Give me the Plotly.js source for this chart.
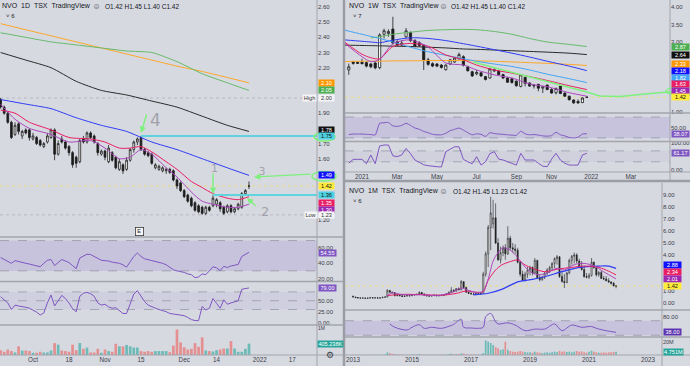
<!DOCTYPE html>
<html><head><meta charset="utf-8">
<script src="https://cdn.plot.ly/plotly-3.0.1.min.js"></script>
<style>html,body{margin:0;padding:0;background:#d7d9e1;overflow:hidden}#c{width:690px;height:366px}</style>
</head><body><div id="c"></div>
<script>
// ================= DAILY (1D) =================
const dDates = ['2021-09-20','2021-09-21','2021-09-22','2021-09-23','2021-09-24','2021-09-27','2021-09-28','2021-09-29','2021-09-30',
'2021-10-01','2021-10-04','2021-10-05','2021-10-06','2021-10-07','2021-10-08','2021-10-12','2021-10-13','2021-10-14','2021-10-15',
'2021-10-18','2021-10-19','2021-10-20','2021-10-21','2021-10-22','2021-10-25','2021-10-26','2021-10-27','2021-10-28','2021-10-29',
'2021-11-01','2021-11-02','2021-11-03','2021-11-04','2021-11-05','2021-11-08','2021-11-09','2021-11-10','2021-11-11','2021-11-12',
'2021-11-15','2021-11-16','2021-11-17','2021-11-18','2021-11-19','2021-11-22','2021-11-23','2021-11-24','2021-11-25','2021-11-26',
'2021-11-29','2021-11-30','2021-12-01','2021-12-02','2021-12-03','2021-12-06','2021-12-07','2021-12-08','2021-12-09','2021-12-10',
'2021-12-13','2021-12-14','2021-12-15','2021-12-16','2021-12-17','2021-12-20','2021-12-21','2021-12-22','2021-12-23','2021-12-24','2021-12-29'];
const dOpen  = [1.99,1.94,1.90,1.84,1.76,1.83,1.75,1.79,1.79,1.73,1.74,1.72,1.68,1.71,1.74,1.79,1.63,1.73,1.71,1.68,1.64,1.61,1.58,1.73,1.71,1.77,1.75,1.70,1.63,1.65,1.58,1.64,1.61,1.53,1.56,1.53,1.59,1.66,1.71,1.74,1.66,1.64,1.63,1.54,1.53,1.52,1.52,1.53,1.52,1.46,1.44,1.39,1.36,1.34,1.31,1.29,1.28,1.24,1.28,1.29,1.30,1.31,1.28,1.25,1.29,1.25,1.27,1.28,1.37,1.42];
const dHigh  = [2.00,1.95,1.91,1.85,1.84,1.84,1.79,1.80,1.80,1.77,1.75,1.73,1.71,1.77,1.80,1.80,1.72,1.75,1.72,1.69,1.65,1.62,1.73,1.75,1.78,1.78,1.76,1.71,1.66,1.66,1.69,1.65,1.62,1.60,1.57,1.61,1.67,1.72,1.74,1.75,1.67,1.65,1.64,1.57,1.56,1.55,1.54,1.54,1.53,1.47,1.45,1.40,1.37,1.35,1.32,1.30,1.29,1.29,1.29,1.36,1.34,1.32,1.29,1.30,1.30,1.28,1.31,1.38,1.40,1.45];
const dLow   = [1.93,1.89,1.83,1.73,1.75,1.76,1.73,1.76,1.72,1.72,1.69,1.68,1.67,1.70,1.73,1.59,1.62,1.70,1.66,1.62,1.54,1.54,1.57,1.70,1.70,1.73,1.70,1.62,1.62,1.59,1.57,1.58,1.53,1.52,1.50,1.52,1.58,1.64,1.69,1.65,1.62,1.61,1.56,1.53,1.52,1.51,1.50,1.50,1.45,1.40,1.38,1.34,1.31,1.28,1.25,1.24,1.23,1.23,1.25,1.28,1.28,1.25,1.23,1.24,1.24,1.24,1.26,1.27,1.36,1.40];
const dClose = [1.94,1.90,1.84,1.74,1.82,1.78,1.78,1.77,1.74,1.75,1.70,1.69,1.70,1.75,1.79,1.63,1.70,1.71,1.67,1.64,1.56,1.57,1.72,1.71,1.77,1.74,1.71,1.64,1.65,1.61,1.67,1.59,1.54,1.58,1.52,1.59,1.66,1.71,1.73,1.66,1.63,1.62,1.57,1.56,1.55,1.54,1.53,1.51,1.46,1.42,1.39,1.35,1.32,1.29,1.26,1.25,1.24,1.28,1.26,1.34,1.33,1.27,1.24,1.29,1.25,1.27,1.30,1.37,1.39,1.42];
const dVolK  = [172,115,195,140,90,310,160,160,140,80,80,115,90,90,160,425,370,160,140,115,370,172,425,220,265,90,90,220,80,195,140,115,400,310,310,360,310,265,265,140,115,140,115,140,140,140,140,100,335,910,450,275,195,220,425,290,630,160,140,125,172,195,230,230,495,230,115,115,220,405.238];
const dRsi   = [47.6,45,42,40,43.5,42,41,40,39,37.5,36,35.5,40,44,45,37,41,45,43,41,37,33,47,50,52,51.5,49,46,44,43.5,43,41.5,41,40,38,35,42,49,53.7,49,46,45,44,42,41.5,40,38,34.5,31.5,30,29,28,26,25,21,22,26,25,30,35.5,34,30.5,36,34.5,36.5,37.5,38.5,49,51.5,54.55];
const dStoch = [59,52,45,30,40,38,37,35,33,29,24,17.5,22,45,63,38,50,62,55,45,32,25,60,67,69,66,60,45,40,42,36,33,34,27,21,21,45,65,72.7,60,48,40,36,33,30,28,25,21,20,19,18,16,12,7,5,4.5,37,29,33,55,44,33,52,42,45,48,50,76,78,79];
// moving averages read at sample dates
const dSlowDates = ['2021-09-20','2021-09-29','2021-10-08','2021-10-20','2021-10-29','2021-11-09','2021-11-18','2021-11-29','2021-12-08','2021-12-17','2021-12-29'];
const dMaOrange = [2.49,2.45,2.41,2.37,2.33,2.29,2.25,2.21,2.175,2.135,2.10];
const dMaGreen  = [2.43,2.40,2.37,2.35,2.33,2.31,2.30,2.24,2.16,2.10,2.05];
const dMaBlack  = [2.30,2.25,2.20,2.11,2.05,2.02,1.98,1.94,1.88,1.82,1.78];
const dMaBlue   = [1.99,1.96,1.93,1.87,1.82,1.78,1.71,1.66,1.60,1.54,1.49];
const dFastDates = ['2021-09-20','2021-09-24','2021-09-30','2021-10-08','2021-10-18','2021-10-26','2021-11-01','2021-11-05','2021-11-10','2021-11-15','2021-11-18','2021-11-24','2021-11-29','2021-12-03','2021-12-08','2021-12-13','2021-12-17','2021-12-22','2021-12-29'];
const dMaPink   = [1.92,1.90,1.84,1.79,1.74,1.73,1.71,1.67,1.67,1.68,1.645,1.58,1.53,1.45,1.41,1.37,1.34,1.33,1.35];
const dMaPurple = [1.96,1.86,1.80,1.76,1.71,1.72,1.67,1.60,1.61,1.66,1.63,1.54,1.48,1.38,1.32,1.30,1.28,1.28,1.30];
const dRay4 = {date:'2021-11-15', level:1.75};
const dRay1 = {date:'2021-12-13', level:1.36};
const dHighLow = {high:2.00, low:1.23};
const dLast = 1.42;
const dPriceTicks = [1.2,1.6,1.7,1.9,2.2,2.3,2.4,2.5,2.6];
const dTickVals = ['2021-09-20','2021-10-01','2021-10-18','2021-11-01','2021-11-15','2021-12-01','2021-12-14','2022-01-04','2022-01-17'];
const dTickText = ['20','Oct','18','Nov','15','Dec','14','2022','17'];
const dHolidays = ['2021-10-11','2021-12-27','2021-12-28','2022-01-03'];

// ================= WEEKLY (1W) =================
const wStart = '2020-12-14';
const wOpen  = [2.20,2.43,2.42,2.42,2.41,2.37,2.40,2.27,3.22,3.24,3.37,3.01,2.91,3.15,3.27,3.04,2.98,2.91,2.49,2.38,2.37,2.34,2.21,2.37,2.43,2.52,2.58,2.29,2.15,2.09,2.12,2.01,1.97,2.17,2.17,2.07,1.97,1.95,1.88,1.73,1.99,1.83,1.76,1.79,1.68,1.77,1.64,1.55,1.74,1.54,1.45,1.34,1.30,1.27,1.42];
const wHigh  = [2.38,2.46,2.45,2.52,2.45,2.40,2.44,3.25,3.38,3.36,3.72,3.05,3.05,3.40,3.30,3.08,3.02,2.93,2.55,2.42,2.40,2.37,2.36,2.52,2.57,2.70,2.62,2.32,2.18,2.20,2.14,2.03,2.26,2.24,2.20,2.09,2.00,1.98,1.90,2.08,2.00,1.84,1.80,1.80,1.74,1.78,1.68,1.70,1.75,1.56,1.47,1.36,1.36,1.42,1.45];
const wLow   = [2.06,2.35,2.37,2.36,2.27,2.25,2.22,2.22,3.10,3.15,2.92,2.88,2.88,3.10,3.00,2.85,2.86,2.20,2.32,2.28,2.28,2.24,2.18,2.34,2.40,2.50,2.30,2.15,2.00,2.05,2.00,1.90,1.95,2.14,2.04,1.94,1.83,1.81,1.72,1.70,1.73,1.72,1.67,1.59,1.54,1.62,1.52,1.50,1.51,1.43,1.33,1.23,1.23,1.25,1.40];
const wClose = [2.29,2.39,2.39,2.38,2.31,2.29,2.26,3.20,3.32,3.30,2.97,2.91,2.97,3.32,3.04,2.88,2.90,2.49,2.36,2.31,2.31,2.27,2.34,2.49,2.54,2.64,2.34,2.18,2.03,2.13,2.03,1.93,2.23,2.21,2.07,1.97,1.85,1.84,1.75,2.06,1.82,1.74,1.75,1.68,1.72,1.64,1.54,1.67,1.53,1.45,1.35,1.26,1.26,1.40,1.42];
const wRsi   = [36.5,37.5,37.5,37.5,37,36.5,35.7,58,59,59.5,53,52,54,58,54,49,46.5,42.5,40,37,36,36,39,44,46.5,49,45,40,36,38,37,33,40,38.5,37.5,37,36,35.5,35,43,38,36,36.5,35.5,34,33.5,34.5,41,36,34,31,30,31.5,37.5,38.07];
const wStoch = [25,39,39,39,23,55,23,88,91.6,91.6,52,49,55,79,60,36.6,28,19,16,13,12,11,67,76,85,85,39,30,23,49,18,30,60,67,40,36.6,30,23,18,61,36.6,36.6,36.6,25,14,12,40,61,36.6,25,18,18,18,55,61.17];
const wMaDates = ['2020-12-07','2021-01-04','2021-01-18','2021-02-01','2021-02-22','2021-03-22','2021-04-19','2021-05-17','2021-06-14','2021-07-05','2021-08-02','2021-08-30','2021-09-27','2021-10-25','2021-11-29','2021-12-27'];
const wMaBlue   = [3.06,3.02,3.00,2.98,3.05,3.12,3.10,3.04,2.95,2.88,2.78,2.68,2.57,2.45,2.31,2.18];
const wMaLBlue  = [3.34,3.22,3.16,3.10,3.00,2.85,2.72,2.62,2.52,2.45,2.37,2.30,2.20,2.08,1.95,1.84];
const wMaPink   = [3.00,2.65,2.55,2.52,2.87,2.96,2.88,2.63,2.49,2.34,2.20,2.11,2.01,1.90,1.75,1.64];
const wMaPurple = [2.97,2.58,2.44,2.50,2.95,3.06,2.85,2.40,2.34,2.20,2.06,1.97,1.80,1.72,1.55,1.45];
const wMaBlack  = [2.91,2.90,2.895,2.89,2.88,2.87,2.85,2.83,2.80,2.79,2.77,2.75,2.73,2.71,2.68,2.64];
const wMaOrange = [2.44,2.45,2.45,2.45,2.46,2.46,2.47,2.47,2.47,2.46,2.45,2.43,2.41,2.39,2.36,2.33];
const wMaGreen  = [null,null,3.12,3.15,3.22,3.28,3.33,3.35,3.36,3.35,3.30,3.22,3.10,3.00,2.93,2.87];
const wPriceTicks = [1,3,3.5,4];
const wTickVals = ['2021-01-04','2021-03-01','2021-05-03','2021-07-05','2021-09-06','2021-11-01','2022-01-03','2022-03-07'];
const wTickText = ['2021','Mar','May','Jul','Sep','Nov','2022','Mar'];

// ================= MONTHLY (1M) =================
const mStartYear = 2013;
const mOpen = [0.55,0.50,0.45,0.42,0.41,0.42,0.39,0.41,0.44,0.42,0.43,0.41,
 0.43,0.48,0.50,1.05,0.90,0.86,0.62,0.65,0.60,0.55,0.58,0.62,
 0.60,0.68,0.70,0.72,0.88,0.75,0.65,0.60,0.58,0.62,0.66,0.60,
 0.63,0.62,0.70,0.76,0.90,1.05,0.98,1.20,1.10,1.78,1.30,0.90,
 0.80,0.75,0.72,0.78,0.74,0.80,2.40,4.10,6.30,6.60,7.10,5.00,
 3.60,4.20,4.60,4.10,5.40,4.60,4.50,4.40,3.40,2.40,1.90,2.40,
 2.75,2.95,2.50,3.55,2.10,1.95,2.15,2.50,2.75,2.95,3.30,3.70,
 3.85,2.20,1.80,1.70,2.50,3.55,3.90,4.00,3.50,3.00,2.80,2.20,
 2.15,2.30,3.40,2.95,2.35,2.55,2.05,2.00,1.85,1.75,1.64,1.42];
const mHigh = [0.62,0.52,0.47,0.45,0.44,0.43,0.43,0.46,0.47,0.45,0.46,0.44,
 0.50,0.55,1.15,1.08,0.95,0.88,0.70,0.72,0.66,0.62,0.66,0.70,
 0.72,0.75,0.78,0.98,0.92,0.80,0.70,0.66,0.64,0.70,0.70,0.66,
 0.70,0.74,0.80,0.95,1.32,1.15,1.25,1.30,1.92,1.80,1.35,0.95,
 0.90,0.85,0.82,0.86,0.82,2.60,4.30,6.50,8.85,8.60,8.30,5.40,
 4.70,4.80,4.90,6.40,5.60,5.00,4.90,4.60,3.50,2.70,2.60,3.00,
 3.10,3.05,3.75,3.60,2.40,2.25,2.60,2.90,3.10,3.40,3.80,4.00,
 3.90,2.70,2.40,2.60,3.70,4.00,4.20,4.15,3.70,3.50,3.10,2.50,
 2.50,3.75,3.45,3.05,2.65,2.70,2.25,2.25,2.08,1.80,1.75,1.45];
const mLow = [0.48,0.42,0.40,0.38,0.38,0.37,0.37,0.40,0.40,0.39,0.40,0.38,
 0.42,0.46,0.48,0.85,0.80,0.55,0.55,0.58,0.52,0.50,0.55,0.55,
 0.58,0.62,0.65,0.70,0.72,0.62,0.55,0.52,0.54,0.58,0.58,0.55,
 0.58,0.60,0.66,0.72,0.85,0.90,0.95,1.05,1.05,1.20,0.85,0.75,
 0.72,0.68,0.66,0.70,0.68,0.78,2.20,3.00,4.40,6.20,4.90,3.50,
 3.30,3.90,3.60,4.00,4.40,4.20,4.10,3.30,2.20,1.80,1.80,2.10,
 2.30,2.30,2.40,2.00,1.80,1.85,2.00,2.30,2.50,2.70,2.90,3.20,
 2.10,1.70,1.25,1.65,2.40,3.20,3.30,3.30,2.90,2.70,2.10,2.05,
 2.00,2.20,2.85,2.20,2.20,2.00,1.90,1.82,1.70,1.54,1.40,1.23];
const mClose = [0.50,0.45,0.42,0.41,0.42,0.39,0.41,0.44,0.42,0.43,0.41,0.43,
 0.48,0.50,1.05,0.90,0.86,0.62,0.65,0.60,0.55,0.58,0.62,0.60,
 0.68,0.70,0.72,0.88,0.75,0.65,0.60,0.58,0.62,0.66,0.60,0.63,
 0.62,0.70,0.76,0.90,1.05,0.98,1.20,1.10,1.78,1.30,0.90,0.80,
 0.75,0.72,0.78,0.74,0.80,2.40,4.10,6.30,7.50,7.10,5.00,3.60,
 4.20,4.60,4.10,5.40,4.60,4.50,4.40,3.40,2.40,1.90,2.40,2.75,
 2.95,2.50,3.55,2.10,1.95,2.15,2.50,2.75,2.95,3.30,3.70,3.85,
 2.20,1.80,1.70,2.50,3.55,3.90,4.00,3.50,3.00,2.80,2.20,2.15,
 2.30,3.40,2.95,2.35,2.55,2.05,2.00,1.85,1.75,1.64,1.42,1.42];
const mVolM = [0.3,0.2,0.2,0.3,0.2,0.2,0.3,0.4,0.3,0.2,0.2,0.3,
 0.5,0.6,4.0,3.0,2.0,1.5,0.8,0.6,0.5,0.4,0.5,0.5,
 0.6,0.5,0.6,1.5,0.8,0.6,0.4,0.5,0.4,0.5,0.4,0.5,
 0.5,0.8,1.0,1.5,2.0,1.2,1.5,1.5,2.5,2.2,1.0,0.8,
 0.8,0.7,0.7,0.6,0.9,3.0,22,20,18,15,12,10,
 7.5,8.5,20,8,6,5,4.5,5,6,5,4,4,
 4,3.5,5,4,3.5,3,3.5,4,3.5,4,5,4.5,
 6,5,5.5,4.5,5,4,5,6,5,5.5,4,3.5,
 5,6.5,5,4,3.5,3.5,4,3.5,4,4,4.5,4.751];
const mRsiDates = ['2014-04-01','2014-06-01','2014-11-01','2015-01-01','2015-04-01','2015-06-01','2015-09-01','2016-01-01','2016-05-01','2016-06-01','2016-09-01','2016-10-01','2017-01-01','2017-04-01','2017-06-01','2017-07-01','2017-09-01','2017-11-01','2017-12-01','2018-04-01','2018-07-01','2018-11-01','2019-03-01','2019-07-01','2019-11-01','2020-02-01','2020-06-01','2020-10-01','2021-02-01','2021-04-01','2021-08-01','2021-12-01'];
const mRsi = [61,52,44.5,52,59,49,52,49,57,60,74,52,50,49,52,81,90,67,61,64,58,42.6,47,47,61,42.6,58,52,54,49,42.6,38];
const mPinkDates = ['2014-03-01','2014-09-01','2015-05-01','2016-01-01','2016-07-01','2016-11-01','2017-03-01','2017-06-01','2017-08-01','2017-11-01','2018-01-15','2018-05-01','2018-08-01','2018-11-01','2019-02-01','2019-07-01','2019-12-01','2020-06-01','2020-11-01','2021-05-01','2021-09-01','2021-12-01'];
const mPink = [0.62,0.72,0.70,0.65,0.80,1.00,0.90,0.95,1.90,2.75,3.17,3.45,3.58,3.17,2.89,2.61,2.81,2.97,3.08,2.97,2.65,2.34];
const mPurpleDates = ['2014-03-01','2014-05-01','2014-09-01','2015-05-01','2015-11-01','2016-05-01','2016-09-01','2016-12-01','2017-04-01','2017-06-01','2017-08-01','2017-10-01','2017-12-01','2018-02-01','2018-05-01','2018-08-01','2018-11-01','2019-02-01','2019-05-01','2019-08-01','2019-12-01','2020-03-01','2020-07-01','2020-11-01','2021-03-01','2021-07-01','2021-12-01'];
const mPurple = [0.60,0.85,0.70,0.68,0.62,0.85,1.25,1.05,0.85,1.00,2.00,3.50,4.20,4.60,4.40,3.80,3.00,2.50,2.35,2.50,2.90,2.75,3.20,3.30,3.10,2.60,2.01];
const mBlueDates = ['2017-02-01','2017-08-01','2018-01-15','2018-08-10','2019-02-01','2019-07-01','2020-02-01','2020-09-01','2021-05-01','2021-09-01','2021-12-01'];
const mBlue = [0.67,0.81,1.14,1.78,1.97,2.19,2.61,2.97,3.08,3.08,2.89];
const mPriceTicks = [0,1,4,5,6,7,8,9];
const mTickVals = ['2013-01-01','2015-01-01','2017-01-01','2019-01-01','2021-01-01','2023-01-01'];
const mTickText = ['2013','2015','2017','2019','2021','2023'];

// ================= BUILD =================
const W = 690, H = 366;
const X = p => p / W, Y = p => 1 - p / H;
const F = 'Liberation Sans, Arial, sans-serif';
function addDays(s, n){ const d = new Date(s + 'T00:00:00Z'); d.setUTCDate(d.getUTCDate() + n); return d.toISOString().slice(0,10); }
const wDates = wOpen.map((_, i) => addDays(wStart, 7 * i));
const mDates = mOpen.map((_, i) => `${mStartYear + Math.floor(i / 12)}-${String(i % 12 + 1).padStart(2,'0')}-01`);

const UP = 'rgba(38,166,154,0.6)', DN = 'rgba(239,83,80,0.55)';
const C = {orange:'#ffa726', green:'#66bb6a', black:'#2a2a2a', blue:'#2f3cf5', pink:'#e91e63', purple:'#ab47bc', lblue:'#42a5f5', rsi:'#7e57c2', cyan:'#5fd3de', yellow:'#ffeb3b', draw:'#7df07d'};

function candle(x, o, h, l, c, xa, ya, lw){
  return {type:'candlestick', x, open:o, high:h, low:l, close:c, xaxis:xa, yaxis:ya, whiskerwidth:0, hoverinfo:'none', showlegend:false,
    increasing:{line:{color:'#1c1c1c', width:lw}, fillcolor:'#ffffff'}, decreasing:{line:{color:'#1c1c1c', width:lw}, fillcolor:'#1c1c1c'}};
}
function ln(x, y, xa, ya, color, w, smooth){
  return {type:'scatter', mode:'lines', x, y, xaxis:xa, yaxis:ya, line:{color, width:w, shape: smooth ? 'spline' : 'linear', smoothing: smooth || 0}, hoverinfo:'skip', showlegend:false, connectgaps:false};
}
function vol(x, v, o, c, xa, ya){
  return {type:'bar', x, y:v, xaxis:xa, yaxis:ya, marker:{color:o.map((ov, i) => c[i] >= ov ? UP : DN)}, hoverinfo:'skip', showlegend:false};
}

const traces = [
  ln(dSlowDates, dMaOrange, 'x', 'y', C.orange, 1, 0.6),
  ln(dSlowDates, dMaGreen, 'x', 'y', C.green, 1, 0.6),
  ln(dSlowDates, dMaBlack, 'x', 'y', C.black, 1, 0.6),
  ln(dSlowDates, dMaBlue, 'x', 'y', C.blue, 1, 0.6),
  ln(dFastDates, dMaPink, 'x', 'y', C.pink, 1, 0.7),
  ln(dFastDates, dMaPurple, 'x', 'y', C.purple, 1, 0.7),
  candle(dDates, dOpen, dHigh, dLow, dClose, 'x', 'y', 0.8),
  ln(dDates, dRsi, 'x', 'y2', C.rsi, 1, 0),
  ln(dDates, dStoch, 'x', 'y3', C.rsi, 1, 0),
  vol(dDates, dVolK.map(v => v * 1000), dOpen, dClose, 'x', 'y4'),
  ln(wMaDates, wMaGreen, 'x2', 'y5', C.green, 1, 0.8),
  ln(wMaDates, wMaBlack, 'x2', 'y5', C.black, 1, 0.8),
  ln(wMaDates, wMaOrange, 'x2', 'y5', C.orange, 1, 0.8),
  ln(wMaDates, wMaBlue, 'x2', 'y5', C.blue, 1, 0.8),
  ln(wMaDates, wMaLBlue, 'x2', 'y5', C.lblue, 1, 0.8),
  ln(wMaDates, wMaPink, 'x2', 'y5', C.pink, 1, 0.8),
  ln(wMaDates, wMaPurple, 'x2', 'y5', C.purple, 1, 0.8),
  candle(wDates, wOpen, wHigh, wLow, wClose, 'x2', 'y5', 0.8),
  ln(wDates, wRsi, 'x2', 'y6', C.rsi, 1, 0.5),
  ln(wDates, wStoch, 'x2', 'y7', C.rsi, 1, 0),
  ln(mBlueDates, mBlue, 'x3', 'y8', C.blue, 1.2, 0.8),
  ln(mPinkDates, mPink, 'x3', 'y8', C.pink, 1, 0.8),
  ln(mPurpleDates, mPurple, 'x3', 'y8', C.purple, 1, 0.8),
  candle(mDates, mOpen, mHigh, mLow, mClose, 'x3', 'y8', 0.6),
  ln(mRsiDates, mRsi, 'x3', 'y9', C.rsi, 1, 0.9),
  vol(mDates, mVolM.map(v => v * 1e6), mOpen, mClose, 'x3', 'y10')
];

const base = {showgrid:false, zeroline:false, showline:false, ticks:'', fixedrange:true, tickfont:{size:6, color:'#3a3d47', family:F}};
const fmt2 = v => v.toFixed(2);
function yax(dom, anchor, range, vals, fmt){ return Object.assign({}, base, {domain:dom, anchor, side:'right', range, tickmode:'array', tickvals:vals, ticktext:vals.map(fmt)}); }
function xax(dom, anchor, range, vals, text, extra){ return Object.assign({}, base, {domain:dom, anchor, type:'date', range, tickmode:'array', tickvals:vals, ticktext:text, rangeslider:{visible:false}, tickfont:{size:6.3, color:'#3a3d47', family:F}}, extra || {}); }

const layout = {
  width:W, height:H, margin:{l:0, r:0, t:0, b:0}, paper_bgcolor:'#d7d9e1', plot_bgcolor:'rgba(0,0,0,0)',
  font:{family:F, color:'#131722'}, showlegend:false, bargap:0.25, dragmode:false,
  xaxis: xax([0, X(317)], 'y4', ['2021-09-17 20:00', '2022-01-25 21:36'], dTickVals, dTickText,
    {rangebreaks:[{bounds:['sat','mon']}, {values:dHolidays}]}),
  yaxis:  yax([Y(237), 1], 'x', [1.084, 2.646], dPriceTicks, fmt2),
  yaxis2: yax([Y(281.5), Y(237)], 'x', [16, 74.7], [20,40,60], fmt2),
  yaxis3: yax([Y(325), Y(282)], 'x', [-5.2, 92.5], [0,25,50], fmt2),
  yaxis4: yax([Y(355), Y(325)], 'x', [0, 1.07e6], [0.95e6], () => '1M'),
  xaxis2: xax([X(345), X(670)], 'y7', ['2020-12-08', '2022-05-08'], wTickVals, wTickText),
  yaxis5: yax([Y(113), 1], 'x2', [0.97, 4.2], wPriceTicks, fmt2),
  yaxis6: yax([Y(141.5), Y(113)], 'x2', [23.3, 77.6], [50], fmt2),
  yaxis7: yax([Y(172), Y(141.5)], 'x2', [-7.3, 104.4], [0,100], fmt2),
  xaxis3: xax([X(345), X(662)], 'y10', ['2012-09-23', '2023-06-23'], mTickVals, mTickText),
  yaxis8: yax([Y(310), Y(183)], 'x3', [-0.583, 10.0], mPriceTicks, fmt2),
  yaxis9: yax([Y(337), Y(310)], 'x3', [25.3, 99.3], [80], fmt2),
  yaxis10: yax([Y(355), Y(337)], 'x3', [0, 27e6], [20e6], () => '20M'),
  shapes: [], annotations: []
};
layout.yaxis4.tickfont = {size:5, color:'#3a3d47', family:F};
layout.yaxis10.tickfont = {size:5.5, color:'#3a3d47', family:F};

const S = layout.shapes, A = layout.annotations;
const SEP = '#a3a5ad';
function lineP(x0, y0, x1, y1, color, w, dash){ S.push({type:'line', xref:'paper', yref:'paper', x0:X(x0), y0:Y(y0), x1:X(x1), y1:Y(y1), line:{color, width:w, dash:dash || 'solid'}}); }
function hLevel(yref, v, x0, x1, color, w, dash){ S.push({type:'line', xref:'paper', yref, x0:X(x0), x1:X(x1), y0:v, y1:v, line:{color, width:w, dash}, layer:'below'}); }
function band(yref, lo, hi, x0, x1, fill){ S.push({type:'rect', xref:'paper', yref, x0:X(x0), x1:X(x1), y0:lo, y1:hi, fillcolor:fill, line:{width:0}, layer:'below'}); }

const DASH = 'rgba(110,113,125,0.65)';
band('y2', 30, 70, 0, 317, 'rgba(126,87,194,0.17)'); hLevel('y2', 70, 0, 317, DASH, 0.7, 'dash'); hLevel('y2', 30, 0, 317, DASH, 0.7, 'dash');
band('y3', 30, 70, 0, 317, 'rgba(126,87,194,0.07)'); [70,50,30].forEach(v => hLevel('y3', v, 0, 317, DASH, 0.7, 'dash'));
band('y6', 30, 70, 345, 670, 'rgba(126,87,194,0.17)'); hLevel('y6', 70, 345, 670, DASH, 0.7, 'dash'); hLevel('y6', 30, 345, 670, DASH, 0.7, 'dash');
band('y7', 30, 70, 345, 670, 'rgba(126,87,194,0.06)'); [70,30].forEach(v => hLevel('y7', v, 345, 670, DASH, 0.7, 'dash'));
band('y9', 30, 70, 345, 662, 'rgba(126,87,194,0.17)'); hLevel('y9', 70, 345, 662, DASH, 0.7, 'dash'); hLevel('y9', 30, 345, 662, DASH, 0.7, 'dash');
hLevel('y', dLast, 0, 317, 'rgba(240,225,90,0.9)', 0.8, 'dot');
hLevel('y', dHighLow.high, 0, 317, 'rgba(140,143,153,0.6)', 0.7, 'dot');
hLevel('y', dHighLow.low, 0, 317, 'rgba(140,143,153,0.6)', 0.7, 'dot');
hLevel('y5', dLast, 345, 670, 'rgba(240,225,90,0.9)', 0.8, 'dot');
hLevel('y8', dLast, 345, 662, 'rgba(240,225,90,0.9)', 0.8, 'dot');
S.push({type:'line', xref:'x', yref:'y', x0:dRay4.date, x1:'2022-01-25 21:36', y0:dRay4.level, y1:dRay4.level, line:{color:C.cyan, width:2}});
S.push({type:'line', xref:'x', yref:'y', x0:dRay1.date, x1:'2022-01-25 21:36', y0:dRay1.level, y1:dRay1.level, line:{color:C.cyan, width:2}});
[237, 281.5, 325].forEach(y => lineP(0, y, 343, y, SEP, 1.5));
lineP(0, 355, 343, 355, SEP, 1);
lineP(317, 0, 317, 366, SEP, 1);
lineP(344, 0, 344, 366, '#9a9da5', 2.5);
[113, 141.5].forEach(y => lineP(345, y, 690, y, SEP, 1.5));
lineP(345, 172, 690, 172, SEP, 1);
lineP(670, 0, 670, 180, SEP, 1);
lineP(345, 181, 690, 181, '#9a9da5', 2.5);
[310, 337].forEach(y => lineP(345, y, 690, y, SEP, 1.5));
lineP(345, 355, 690, 355, SEP, 1);
lineP(662, 183, 662, 366, SEP, 1);
function ell(x0, y0, x1, y1){ S.push({type:'circle', xref:'paper', yref:'paper', x0:X(x0), x1:X(x1), y0:Y(y1), y1:Y(y0), line:{color:C.draw, width:1.4}}); }
ell(314, 132.5, 335, 141); ell(312, 171.5, 336, 181); ell(666, 86.5, 702, 95.5);
const wLine = [[473,62],[530,77],[585,91.5],[600,96],[620,96.5],[645,94],[668,92],[690,91]];
S.push({type:'path', xref:'paper', yref:'paper', path: wLine.map((p, i) => (i ? 'L' : 'M') + X(p[0]) + ',' + Y(p[1])).join(' '), line:{color:C.draw, width:1.6}});

function txt(x, y, text, size, color, extra){ A.push(Object.assign({xref:'paper', yref:'paper', x:X(x), y:Y(y), xanchor:'left', yanchor:'middle', text, showarrow:false, font:{size, color, family:F}}, extra || {})); }
function tag(x, yref, v, text, bg, fg, w, shift, h){ A.push({xref:'paper', yref, x:X(x), y:v, xanchor:'left', yanchor:'middle', text, showarrow:false, bgcolor:bg, font:{size:5.6, color:fg, family:F}, width:w, height:h || 6.2, borderpad:0, yshift:shift || 0}); }
function arrow(hx, hy, ax, ay){ A.push({xref:'paper', yref:'paper', x:X(hx), y:Y(hy), ax, ay, text:'', showarrow:true, arrowcolor:C.draw, arrowwidth:1.4, arrowhead:2, arrowsize:0.9}); }

txt(0, 6, 'NVO&nbsp;&nbsp;1D&nbsp;&nbsp;TSX&nbsp;&nbsp;TradingView', 7, '#131722');
txt(91, 6, '⊜', 8, '#80838c', {font:{size:8, color:'#80838c', family:'DejaVu Sans'}});
txt(103, 6, 'O1.42 H1.45 L1.40 C1.42', 6.5, '#131722');
txt(4, 16, '˅ 6', 6, '#131722');
txt(347, 6, 'NVO&nbsp;&nbsp;1W&nbsp;&nbsp;TSX&nbsp;&nbsp;TradingView', 7, '#131722');
txt(438, 6, '⊜', 8, '#80838c', {font:{size:8, color:'#80838c', family:'DejaVu Sans'}});
txt(449, 6, 'O1.42 H1.45 L1.40 C1.42', 6.5, '#131722');
txt(351, 16, '˅ 7', 6, '#131722');
txt(347, 191, 'NVO&nbsp;&nbsp;1M&nbsp;&nbsp;TSX&nbsp;&nbsp;TradingView', 7, '#131722');
txt(438, 191, '⊜', 8, '#80838c', {font:{size:8, color:'#80838c', family:'DejaVu Sans'}});
txt(451, 191, 'O1.42 H1.45 L1.23 C1.42', 6.5, '#131722');
txt(351, 201, '˅ 6', 6, '#131722');

const HW = {family:'DejaVu Sans', color:'#a0a2aa'};
txt(148, 120, '4', 17, '#a0a2aa', {font:Object.assign({size:17}, HW)});
txt(209, 168, '1', 11, '#a0a2aa', {font:Object.assign({size:11}, HW)});
txt(257, 171, '3', 10, '#a0a2aa', {font:Object.assign({size:10}, HW)});
txt(259, 211, '2', 13, '#a0a2aa', {font:Object.assign({size:13}, HW)});
arrow(141, 133, 6, -20);
arrow(213, 194, 0, -22);
arrow(254, 177, 58, -3);
arrow(247, 198, 10, 9);

A.push({xref:'paper', yref:'paper', x:X(135), y:Y(231), text:'E', showarrow:false, bgcolor:'#f4f4f6', bordercolor:'#3a3a3a', borderwidth:0.8, borderpad:0.5, font:{size:5.5, color:'#222', family:F}, width:6, height:6});
A.push({xref:'paper', yref:'paper', x:X(330), y:Y(362), text:'⚙', showarrow:false, font:{size:9, color:'#3a3d47', family:'DejaVu Sans'}});

// daily tags
tag(318, 'y', 2.10, '2.10', '#ff9800', '#fff', 15);
tag(318, 'y', 2.05, '2.05', '#4caf50', '#fff', 15);
tag(302, 'y', dHighLow.high, 'High', '#f5f5f7', '#333', 13);
tag(318, 'y', dHighLow.high, '2.00', '#f5f5f7', '#333', 15);
tag(318, 'y', 1.78, '1.78', '#111111', '#fff', 15, 1.4);
tag(318, 'y', dRay4.level, '1.75', '#4dd0e1', '#111', 15);
tag(318, 'y', 1.49, '1.49', '#1010ff', '#fff', 15);
tag(318, 'y', dLast, '1.42', C.yellow, '#111', 15);
tag(318, 'y', dRay1.level, '1.36', '#4dd0e1', '#111', 15);
tag(318, 'y', 1.35, '1.35', '#e91e63', '#fff', 15, -6.4);
tag(318, 'y', 1.30, '1.30', '#9c27b0', '#fff', 15, -6);
tag(304, 'y', dHighLow.low, 'Low', '#f5f5f7', '#333', 12, -0.6);
tag(318, 'y', dHighLow.low, '1.23', '#f5f5f7', '#333', 15, -0.6);
tag(318, 'y2', dRsi[dRsi.length - 1], dRsi[dRsi.length - 1].toFixed(2), '#7e57c2', '#fff', 17, -1.2);
tag(318, 'y3', dStoch[dStoch.length - 1], dStoch[dStoch.length - 1].toFixed(2), '#7e57c2', '#fff', 17);
tag(317, 'y4', dVolK[dVolK.length - 1] * 1000, dVolK[dVolK.length - 1].toFixed(3) + 'K', '#26a69a', '#fff', 25);
// weekly tags
tag(671, 'y5', 2.87, '2.87', '#4caf50', '#fff', 17);
tag(671, 'y5', 2.64, '2.64', '#111111', '#fff', 17);
tag(671, 'y5', 2.33, '2.33', '#ff9800', '#fff', 17, 1.5);
tag(671, 'y5', 2.18, '2.18', '#1010ff', '#fff', 17);
tag(671, 'y5', 1.82, '1.82', '#42a5f5', '#fff', 17, 5.6);
tag(671, 'y5', 1.63, '1.63', '#e91e63', '#fff', 17, 6);
tag(671, 'y5', 1.45, '1.45', '#9c27b0', '#fff', 17, 5.3);
tag(671, 'y5', dLast, '1.42', C.yellow, '#111', 17);
tag(671, 'y6', wRsi[wRsi.length - 1], wRsi[wRsi.length - 1].toFixed(2), '#7e57c2', '#fff', 17);
tag(671, 'y7', wStoch[wStoch.length - 1], wStoch[wStoch.length - 1].toFixed(2), '#7e57c2', '#fff', 17);
// monthly tags
tag(663, 'y8', 2.88, '2.88', '#1010ff', '#fff', 17, 3.6, 5.8);
tag(663, 'y8', 2.34, '2.34', '#e91e63', '#fff', 17, 3.2, 5.8);
tag(663, 'y8', 2.01, '2.01', '#9c27b0', '#fff', 17, 0, 5.8);
tag(663, 'y8', dLast, '1.42', C.yellow, '#111', 17, 0, 5.8);
tag(663, 'y9', mRsi[mRsi.length - 1], mRsi[mRsi.length - 1].toFixed(2), '#5e35b1', '#fff', 17);
tag(663, 'y10', mVolM[mVolM.length - 1] * 1e6, mVolM[mVolM.length - 1].toFixed(3) + 'M', '#26a69a', '#fff', 19);

Plotly.newPlot('c', traces, layout, {staticPlot:true, displayModeBar:false});
</script>
</body></html>
